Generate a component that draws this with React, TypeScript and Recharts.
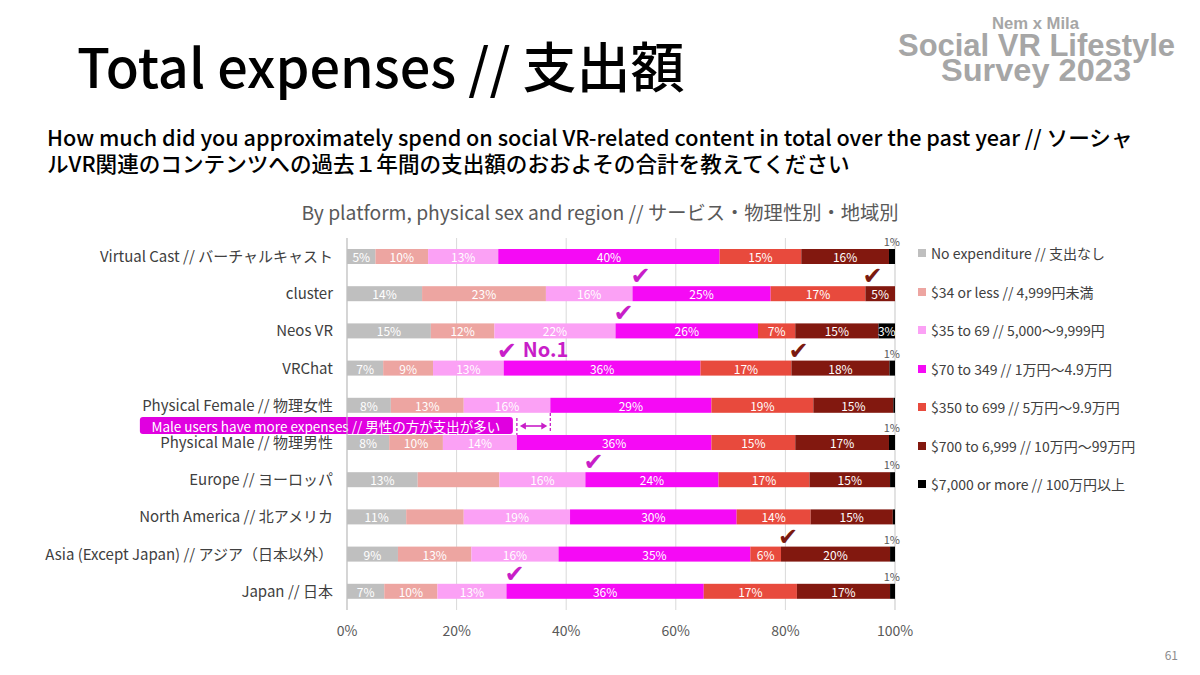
import React from 'react'
import { BarChart, Bar, XAxis, YAxis, CartesianGrid } from 'recharts'

const categories = [
  'Virtual Cast // バーチャルキャスト',
  'cluster',
  'Neos VR',
  'VRChat',
  'Physical Female // 物理女性',
  'Physical Male // 物理男性',
  'Europe // ヨーロッパ',
  'North America // 北アメリカ',
  'Asia (Except Japan) // アジア（日本以外）',
  'Japan // 日本',
]

// share of respondents (%) per spending bracket, one value per category
const noExpenditure = [5.2, 13.7, 15.3, 6.6, 8.0, 7.7, 12.9, 10.8, 9.3, 6.8]
const under34 = [9.6, 22.6, 11.6, 9.1, 13.3, 9.8, 14.9, 10.5, 13.4, 9.7]
const from35 = [12.8, 15.8, 22.1, 12.9, 15.8, 13.5, 15.7, 19.4, 15.9, 12.6]
const from70 = [40.4, 25.2, 26.0, 35.9, 29.4, 35.5, 24.3, 30.4, 35.0, 36.0]
const from350 = [14.9, 17.3, 6.8, 16.6, 18.6, 15.3, 16.6, 13.5, 5.6, 17.0]
const from700 = [16.0, 5.4, 15.2, 17.9, 14.6, 17.1, 14.7, 15.0, 19.9, 17.0]
const over7000 = [1.1, 0, 3.0, 1.0, 0.3, 1.1, 0.9, 0.4, 0.9, 0.9]

const seriesNames = [
  'No expenditure // 支出なし',
  '$34 or less // 4,999円未満',
  '$35 to 69 // 5,000～9,999円',
  '$70 to 349 // 1万円～4.9万円',
  '$350 to 699 // 5万円～9.9万円',
  '$700 to 6,999 // 10万円～99万円',
  '$7,000 or more // 100万円以上',
]
const seriesKeys = ['none', 'under34', 'from35', 'from70', 'from350', 'from700', 'over7000']
const seriesColors = ['#BFBFBF', '#EDA5A1', '#FBA1F5', '#F50AF5', '#E84A3D', '#82180F', '#000000']

const xTicks = [0, 20, 40, 60, 80, 100]

// annotations
const magentaChecks = ['cluster', 'Neos VR', 'VRChat', 'Europe // ヨーロッパ', 'Japan // 日本']
const darkChecks = ['cluster', 'VRChat', 'Asia (Except Japan) // アジア（日本以外）']
const noOne = 'VRChat'
const hiddenLabels = [
  ['Europe // ヨーロッパ', 'under34'],
  ['North America // 北アメリカ', 'under34'],
]
const femaleCat = 'Physical Female // 物理女性'
const maleCat = 'Physical Male // 物理男性'
const maleNote = 'Male users have more expenses // 男性の方が支出が多い'

const table = categories.map((name, i) => ({
  name,
  none: noExpenditure[i],
  under34: under34[i],
  from35: from35[i],
  from70: from70[i],
  from350: from350[i],
  from700: from700[i],
  over7000: over7000[i],
}))

const FONT = "'Noto Sans CJK JP', 'Noto Sans', sans-serif"
const CHECK_FONT = "'DejaVu Sans', sans-serif"
const LOGO_FONT = "'Liberation Sans', Arial, sans-serif"
const MAG_CHECK = '#C81EC8'
const DARK_CHECK = '#7A1A10'

const magentaStart = (row: any) => row.none + row.under34 + row.from35

function makeShape(key: string, color: string) {
  return (props: any) => {
    const { x, y, width, height, payload } = props
    const value = payload[key]
    const rounded = Math.round(value)
    const cx = x + width / 2
    const cy = y + height / 2
    let label: any = null
    const hidden = hiddenLabels.some(([c, k]) => c === payload.name && k === key)
    if (key === 'over7000') {
      if (value >= 2) {
        label = (
          <text x={cx} y={cy} fill="#fff" fontSize={12} fontFamily={FONT} textAnchor="middle" dominantBaseline="central">
            {rounded}%
          </text>
        )
      } else if (rounded >= 1) {
        label = (
          <text x={x + width + 5} y={y - 8} fill="#595959" fontSize={11} fontFamily={FONT} textAnchor="end" dominantBaseline="central">
            {rounded}%
          </text>
        )
      }
    } else if (!hidden && width > 0) {
      label = (
        <text x={cx} y={cy} fill="#fff" fontSize={12} fontFamily={FONT} textAnchor="middle" dominantBaseline="central">
          {rounded}%
        </text>
      )
    }

    const extras: any[] = []
    if (key === 'from70' && magentaChecks.includes(payload.name)) {
      const shift = payload.name === noOne ? -7 : -2
      extras.push(
        <text key="chk" x={x + shift} y={y - 2} fill={MAG_CHECK} fontSize={24} fontFamily={CHECK_FONT}>
          ✔
        </text>
      )
      if (payload.name === noOne) {
        extras.push(
          <text key="no1" x={x + 19} y={y - 4} fill={MAG_CHECK} fontSize={20} fontWeight="bold" fontFamily={FONT}>
            No.1
          </text>
        )
      }
    }
    if (key === 'from700' && darkChecks.includes(payload.name)) {
      extras.push(
        <text key="dchk" x={x - 3} y={y - 2} fill={DARK_CHECK} fontSize={24} fontFamily={CHECK_FONT}>
          ✔
        </text>
      )
    }
    if (key === 'from70' && payload.name === maleCat) {
      const female = table.find((r) => r.name === femaleCat)!
      const pxPer = width / value
      const fx = x + (magentaStart(female) - magentaStart(payload)) * pxPer
      const ay = y - 9
      extras.push(
        <g key="male">
          <line x1={x} y1={y - 17} x2={x} y2={y} stroke={MAG_CHECK} strokeWidth={1.3} strokeDasharray="3 2" />
          <line x1={fx} y1={y - 22} x2={fx} y2={y - 2} stroke={MAG_CHECK} strokeWidth={1.3} strokeDasharray="3 2" />
          <line x1={x + 5} y1={ay} x2={fx - 5} y2={ay} stroke={MAG_CHECK} strokeWidth={1.6} />
          <polygon points={`${x + 3},${ay} ${x + 9},${ay - 3.5} ${x + 9},${ay + 3.5}`} fill={MAG_CHECK} />
          <polygon points={`${fx - 3},${ay} ${fx - 9},${ay - 3.5} ${fx - 9},${ay + 3.5}`} fill={MAG_CHECK} />
          <rect x={x - 377} y={y - 18} width={373} height={17} rx={3} fill="#E000E0" />
          <text x={x - 191} y={y - 9.5} fill="#fff" fontSize={13.5} fontFamily={FONT} textAnchor="middle" dominantBaseline="central">
            {maleNote}
          </text>
        </g>
      )
    }

    return (
      <g>
        {width > 0 && <rect x={x} y={y} width={width} height={height} fill={color} />}
        {label}
        {extras}
      </g>
    )
  }
}

function LegendList() {
  return (
    <div style={{ position: 'absolute', left: 918, top: 234, fontFamily: FONT }}>
      {seriesNames.map((n, i) => (
        <div key={n} style={{ display: 'flex', alignItems: 'center', height: 38.5, fontSize: 14, color: '#404040', whiteSpace: 'nowrap' }}>
          <span style={{ width: 8, height: 8, background: seriesColors[i], marginRight: 5, display: 'inline-block' }} />
          {n}
        </div>
      ))}
    </div>
  )
}

function Logo() {
  return (
    <svg style={{ position: 'absolute', left: 880, top: 0 }} width={310} height={95}>
      <text x={112} y={29} textLength={87} lengthAdjust="spacingAndGlyphs" fontSize={16} fontWeight="bold" fill="#A6A6A6" fontFamily={LOGO_FONT}>
        Nem x Mila
      </text>
      <text x={18} y={56} textLength={277} lengthAdjust="spacingAndGlyphs" fontSize={31} fontWeight="bold" fill="#A6A6A6" fontFamily={LOGO_FONT}>
        Social VR Lifestyle
      </text>
      <text x={61} y={81} textLength={190} lengthAdjust="spacingAndGlyphs" fontSize={31} fontWeight="bold" fill="#A6A6A6" fontFamily={LOGO_FONT}>
        Survey 2023
      </text>
    </svg>
  )
}

export default function App() {
  return (
    <div style={{ position: 'absolute', left: 0, top: 0, width: 1200, height: 675, background: '#fff', overflow: 'hidden', fontFamily: FONT }}>
      <div style={{ position: 'absolute', left: 77, top: 30, fontSize: 54, fontWeight: 500, lineHeight: '70px', color: '#000', whiteSpace: 'nowrap' }}>
        Total expenses // 支出額
      </div>
      <Logo />
      <div style={{ position: 'absolute', left: 47, top: 124, fontSize: 21.6, fontWeight: 500, lineHeight: '26px', color: '#000', whiteSpace: 'nowrap' }}>
        <div>How much did you approximately spend on social VR-related content in total over the past year // ソーシャ</div>
        <div>ルVR関連のコンテンツへの過去１年間の支出額のおおよその合計を教えてください</div>
      </div>
      <div style={{ position: 'absolute', left: 0, width: 1200, top: 198, textAlign: 'center', fontSize: 19.3, color: '#595959', whiteSpace: 'nowrap' }}>
        By platform, physical sex and region // サービス・物理性別・地域別
      </div>
      <div style={{ position: 'absolute', right: 22, top: 646, fontSize: 12, color: '#8C8C8C' }}>61</div>
      <LegendList />

      <div style={{ position: 'absolute', left: 0, top: 0 }}>
        <BarChart
          layout="vertical"
          width={1200}
          height={675}
          data={table}
          margin={{ top: 238, right: 305, bottom: 35, left: 0 }}
          barSize={15}
        >
          <CartesianGrid horizontal={false} stroke="#D9D9D9" />
          <XAxis
            type="number"
            domain={[0, 100]}
            ticks={xTicks}
            tickFormatter={(v) => `${v}%`}
            axisLine={false}
            tickLine={false}
            tickMargin={10}
            height={30}
            tick={{ fontSize: 14, fill: '#595959', fontFamily: FONT }}
          />
          <YAxis
            type="category"
            dataKey="name"
            width={347}
            axisLine={{ stroke: '#BFBFBF' }}
            tickLine={false}
            tickMargin={8}
            interval={0}
            tick={{ fontSize: 15, fill: '#404040', fontFamily: FONT }}
          />
          {seriesKeys.map((k, i) => (
            <Bar
              key={k}
              dataKey={k}
              name={seriesNames[i]}
              stackId="a"
              fill={seriesColors[i]}
              isAnimationActive={false}
              shape={makeShape(k, seriesColors[i])}
            />
          ))}
        </BarChart>
      </div>
    </div>
  )
}
